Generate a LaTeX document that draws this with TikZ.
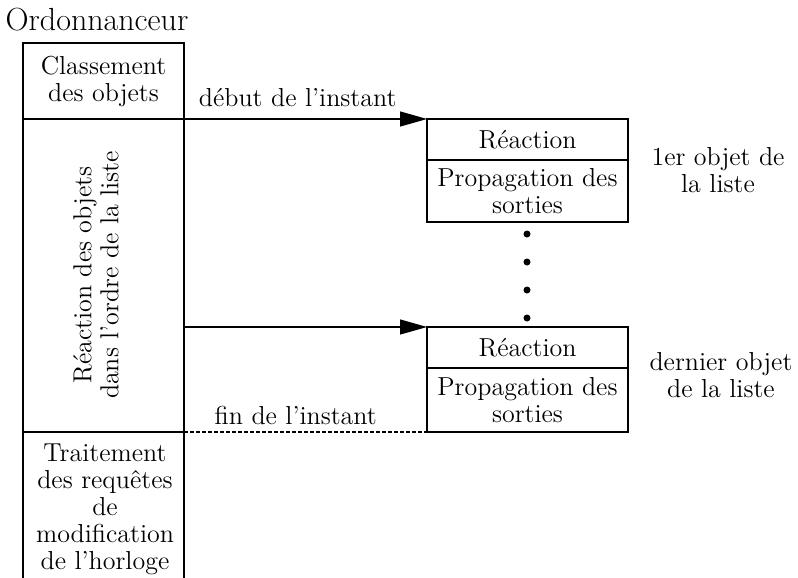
\documentclass[tikz,border=0pt]{standalone}
\usepackage{tikz}
\usetikzlibrary{arrows.meta,positioning}
\begin{document}
\begin{tikzpicture}[x=0.5pt,y=-0.5pt,line width=0.6pt,
  every node/.style={font=\fontsize{13}{13.5}\selectfont, inner sep=0pt, outer sep=0pt, align=center},
  colonne/.style={draw, minimum width=80.5pt},
  etape/.style={draw, minimum width=100.5pt},
  fleche/.style={-{Triangle[length=13.5pt,width=7.5pt]}},
  point/.style={circle, fill, minimum size=3.5pt}]
  \useasboundingbox (0,0) rectangle (798,578);

  \node[font=\fontsize{16}{16}\selectfont] (titre) at (97,20) {Ordonnanceur};

  \node[colonne, minimum height=38pt] (classement) at (103.5,81) {Classement\\des objets};
  \node[colonne, minimum height=156.5pt] (reaction) at (103.5,275.5) {};
  \node[rotate=90] (ordre) at (96,275) {R\'eaction des objets\\dans l'ordre de la liste};
  \node (traitement) at (105,509) {Traitement\\des requ\^etes\\de\\modification\\de l'horloge};
  \coordinate (basG) at (23,578);
  \coordinate (basD) at (184,578);
  \draw (reaction.south west) -- (basG);
  \draw (reaction.south east) -- (basD);

  \node[etape, minimum height=20.5pt, anchor=north west] (r1) at (427,119) {R\'eaction};
  \node[etape, minimum height=31pt, below=0pt of r1] (p1) {Propagation des\\sorties};
  \node[etape, minimum height=20.5pt, anchor=north west] (r2) at (427,327) {R\'eaction};
  \node[etape, minimum height=32pt, below=0pt of r2] (p2) {Propagation des\\sorties};

  \node[point] (d1) at (527,234) {};
  \node[point] (d2) at (527,262) {};
  \node[point] (d3) at (527,290) {};
  \node[point] (d4) at (527,318) {};

  \node (premier) at (718,170) {1er objet de\\la liste};
  \node (dernier) at (721,375) {dernier objet\\de la liste};

  \draw[fleche] (classement.south west) -- (r1.north west)
        node[pos=0.68, above=6pt] {d\'ebut de l'instant};
  \draw[fleche] (reaction.east |- r2.north west) -- (r2.north west);
  \draw[dash pattern=on 2pt off 1pt] (reaction.south east) -- (p2.south west)
        node[pos=0.46, above=3.5pt] {fin de l'instant};
\end{tikzpicture}
\end{document}
